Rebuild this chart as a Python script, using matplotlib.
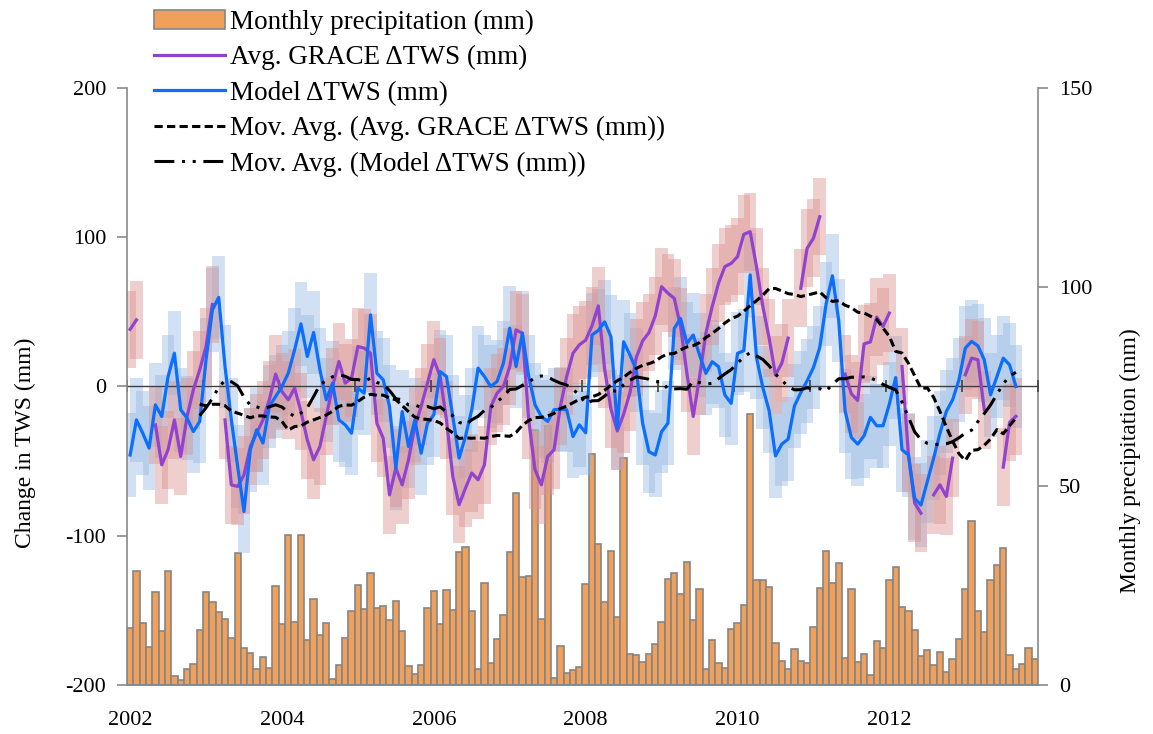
#%% Setup and imports
import numpy as np
import pandas as pd
import matplotlib
matplotlib.use('Agg')
import matplotlib.pyplot as plt

plt.rcParams['font.family'] = ['Liberation Serif', 'DejaVu Serif']
plt.rcParams['axes.unicode_minus'] = False

nan = np.nan

# Monthly values, Jan 2002 .. Dec 2013 (144 months)
precip = [14.4, 28.6, 15.5, 9.5, 23.3, 13.6, 28.6, 2.3, 1.3, 4.0, 5.2, 13.7,
          23.4, 20.8, 18.3, 16.7, 11.9, 33.1, 9.3, 8.1, 4.1, 7.1, 4.3, 24.9,
          15.4, 37.6, 15.7, 37.7, 11.3, 21.6, 12.6, 15.6, 1.6, 5.0, 11.9, 18.6,
          25.2, 19.0, 28.1, 19.3, 19.9, 16.2, 21.1, 13.6, 4.8, 2.8, 5.1, 19.4,
          23.5, 15.3, 23.9, 18.8, 33.4, 34.6, 18.7, 3.9, 25.5, 5.6, 11.5, 17.7,
          33.4, 48.2, 27.1, 27.5, 64.0, 16.7, 65.0, 1.7, 9.8, 2.9, 3.7, 4.5,
          25.3, 58.0, 35.3, 20.9, 33.6, 17.0, 57.1, 7.8, 7.5, 5.7, 7.8, 10.2,
          15.7, 26.6, 28.1, 22.8, 30.8, 16.3, 24.2, 4.1, 11.4, 5.6, 4.2, 14.1,
          15.6, 20.1, 68.1, 26.4, 26.4, 24.6, 10.5, 6.0, 4.1, 9.1, 6.1, 5.4,
          14.6, 24.4, 33.7, 25.6, 30.7, 6.9, 24.1, 5.7, 7.7, 2.4, 11.1, 9.3,
          26.4, 29.6, 19.6, 18.6, 13.9, 7.4, 8.7, 4.9, 8.4, 3.3, 6.4, 11.6,
          24.1, 41.1, 18.6, 13.4, 26.5, 30.2, 34.5, 7.5, 3.9, 5.2, 9.2, 6.6]

grace = [38.3, 44.6, nan, nan, -25.7, -52.5, -42.4, -22.4, -46.9, -20.1, -2.2, 11.2,
         26.8, 55.0, nan, -22.4, -65.9, -67.0, -59.2, -40.2, -31.3, -22.4, -8.9, 8.3,
         -3.4, -8.9, -1.1, -16.8, -35.7, -49.1, -40.2, -20.1, 0.0, 16.8, 2.2, 5.6,
         26.8, 25.7, 22.3, -24.6, -34.6, -72.6, -54.7, -65.9, -49.1, -26.8, -13.4, 2.2,
         18.0, 6.7, -22.4, -60.3, -79.2, -68.1, -58.0, -62.5, -52.5, -13.4, -4.5, 0.0,
         13.4, 37.9, 35.7, -22.4, -55.8, -65.9, -46.9, -42.4, -13.4, 6.7, 22.3, 27.9,
         31.0, 40.6, 54.0, 11.6, -15.2, -29.8, -18.6, -4.1, 19.4, 30.5, 36.1, 47.3,
         66.9, 62.5, 59.1, 40.2, 8.9, -20.1, 6.6, 35.7, 53.6, 69.2, 80.3, 82.5,
         87.0, 102.0, 103.7, 80.3, 53.6, 32.4, 7.8, 15.6, 32.4, nan, 65.8, 92.6,
         99.3, 113.8, nan, nan, nan, 8.3, -4.9, -9.4, 28.6, 29.8, 46.5, 40.2,
         49.2, nan, 13.4, -44.7, -78.2, -84.9, nan, -72.6, -65.9, -73.7, -48.0, nan,
         7.8, 19.0, 17.9, -15.6, nan, nan, -54.0, -24.0, -20.0, nan, nan, nan]

model = [-45.9, -22.4, -31.3, -41.3, -12.3, -20.1, 6.7, 22.3, -15.6, -21.2, -30.2, -23.4,
         17.9, 51.2, 59.7, 13.4, -22.4, -53.6, -83.8, -42.4, -29.0, -37.9, -13.4, -6.7,
         0.0, 8.9, 24.6, 42.0, 20.1, 36.2, 11.2, -8.9, 2.2, -22.4, -25.7, -31.3,
         -1.1, -4.5, 48.0, 8.9, 4.5, -13.4, -54.7, -16.8, -40.2, -22.4, -44.7, -24.6,
         -19.0, 10.0, 6.7, -20.1, -48.0, -33.5, -15.6, 12.3, 6.7, 0.0, 3.4, 15.6,
         39.1, 13.4, 35.7, 6.7, -12.3, -20.1, -23.4, -15.6, -15.2, -15.6, -33.5, -25.7,
         -31.0, 34.5, 37.6, 43.3, 33.3, -28.0, 30.0, 21.1, 11.1, -24.6, -43.7, -45.9,
         -30.3, -24.6, 38.9, 45.6, 28.8, 34.5, 21.1, 8.8, 16.6, 13.3, -5.7, -11.3,
         22.2, 24.0, 74.8, 19.4, -0.7, -16.3, -46.5, -38.6, -35.3, -13.0, -4.1, 3.8,
         12.7, 26.1, 55.2, 74.2, 44.1, -16.3, -34.2, -38.6, -33.0, -20.7, -26.3, -26.3,
         -11.8, 6.0, -42.4, -45.8, -75.0, -79.4, -63.7, -48.0, -31.3, -16.8, -8.9, 4.5,
         25.7, 30.2, 27.2, 17.9, -5.6, 6.7, 19.0, 14.5, 0.0, nan, nan, nan]

# uncertainty half-width of each series (mm)
grace_err = 26
model_err = 28

year_ticks = [0, 24, 48, 72, 96, 120]
year_labels = ['2002', '2004', '2006', '2008', '2010', '2012']


#%% Moving averages (12-month trendline, as in the spreadsheet)
def mov_avg(values, window=12):
    s = pd.Series(values)
    ma = s.rolling(window, min_periods=1).mean()
    ma[:window - 1] = nan
    ma[s.index > s.last_valid_index()] = nan
    return ma

months = np.arange(len(precip))
grace_arr = np.array(grace)
model_arr = np.array(model)
grace_ma = mov_avg(grace)
model_ma = mov_avg(model)


#%% Plot
fig = plt.figure(figsize=(11.53, 7.34), dpi=100)
ax = fig.add_axes([0.1101, 0.0668, 0.7902, 0.8133])
ax2 = ax.twinx()
ax.set_zorder(ax2.get_zorder() + 1)
ax.patch.set_visible(False)

bars = ax2.bar(months, precip, width=1.0, color='#f0a05a', edgecolor='#858585',
               linewidth=1.2, label='Monthly precipitation (mm)')

# uncertainty bands drawn as overlapping translucent columns
ok = ~np.isnan(model_arr)
ax.bar(months[ok], 2 * model_err, bottom=model_arr[ok] - model_err, width=2.0,
       color='#96b9e1', alpha=0.43, linewidth=0)
ok = ~np.isnan(grace_arr)
ax.bar(months[ok], 2 * grace_err, bottom=grace_arr[ok] - grace_err, width=2.0,
       color='#dc9494', alpha=0.45, linewidth=0)

# zero line with yearly tick marks
ax.axhline(0, color='#404040', lw=1.0, zorder=2)
ax.plot(np.arange(0, 145, 12) - 0.5, np.zeros(13), ls='none', marker='|',
        ms=8, mew=1.2, color='#404040', zorder=2)

l1, = ax.plot(months, grace_arr, color='#9143d0', lw=2.3, zorder=4,
              label='Avg. GRACE \u0394TWS (mm)')
l2, = ax.plot(months, model_arr, color='#0a6eff', lw=2.3, zorder=5,
              label='Model \u0394TWS (mm)')
l3, = ax.plot(months, grace_ma, color='black', lw=2.2, dashes=(2.7, 1.4), zorder=6,
              label='Mov. Avg. (Avg. GRACE \u0394TWS (mm))')
l4, = ax.plot(months, model_ma, color='black', lw=2.2,
              dashes=(6.5, 2.5, 1, 2.5, 1, 2.5), zorder=6,
              label='Mov. Avg. (Model \u0394TWS (mm))')

# axes styling
ax.set_xlim(-0.5, len(precip) - 0.5)
ax.set_ylim(-200, 200)
ax.set_yticks([-200, -100, 0, 100, 200])
ax2.set_ylim(0, 150)
ax2.set_yticks([0, 50, 100, 150])
ax.set_xticks(year_ticks)
ax.set_xticklabels(year_labels)

for a in (ax, ax2):
    a.spines['top'].set_visible(False)
    for sp in a.spines.values():
        sp.set_color('#898989')
        sp.set_linewidth(1.2)
ax.spines['right'].set_visible(False)
ax2.spines['left'].set_visible(False)

ax.tick_params(axis='x', length=0, pad=19, labelsize=16)
ax.tick_params(axis='y', length=7, width=1.2, color='#898989', pad=8, labelsize=16)
ax2.tick_params(axis='y', length=7, width=1.2, color='#898989', pad=8, labelsize=16)

ax.set_ylabel('Change in TWS (mm)', fontsize=17)
ax.yaxis.set_label_coords(-0.1, 0.405)
ax2.set_ylabel('Monthly precipitation (mm)', fontsize=17)
ax2.yaxis.set_label_coords(1.09, 0.375)

fig.legend([bars, l1, l2, l3, l4],
           [bars.get_label(), l1.get_label(), l2.get_label(), l3.get_label(), l4.get_label()],
           loc='upper left', bbox_to_anchor=(0.122, 1.005), frameon=False, fontsize=19.5,
           handlelength=2.6, handletextpad=0.2, labelspacing=0.38, borderaxespad=0.1)

plt.savefig('out.png', dpi=100)
print('saved out.png')
